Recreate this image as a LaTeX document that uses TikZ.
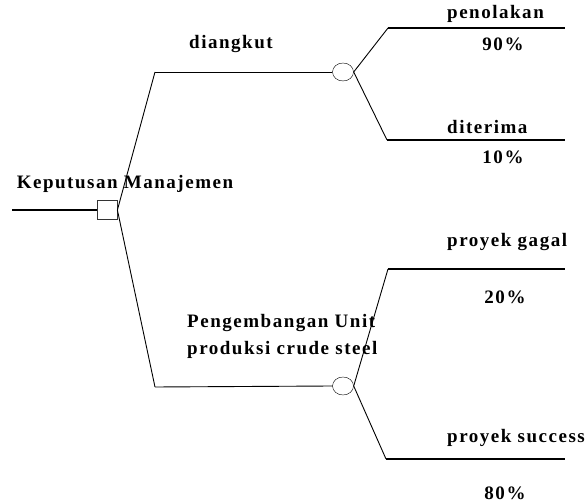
\documentclass[tikz,border=0pt]{standalone}
\usepackage{fontspec}
\setmainfont[LetterSpace=8]{Liberation Serif}
\usetikzlibrary{shapes.geometric,positioning}
\tikzset{%
  decision/.style={rectangle,draw=black!80,thick,minimum width=20pt,minimum height=19pt,inner sep=0pt},
  chance/.style={ellipse,draw=black,minimum width=21pt,minimum height=18pt,inner sep=0pt},
  branch/.style={draw=black,line width=0.9pt},
  outcome/.style={draw=black,line width=1.6pt},
  lbl/.style={font=\fontsize{19}{27}\selectfont\bfseries,inner sep=0pt}%
}
\begin{document}
\begin{tikzpicture}[x=1pt,y=-1pt]
      \useasboundingbox (0,0) rectangle (587,502);

      % decision node
      \coordinate (start) at (12,210);
      \node (keputusan) [decision] at (107,210) {};
      \coordinate (up_a) at (155,72);
      \coordinate (up_b) at (155,387);

      % chance nodes
      \node (chance_a) [chance] at (343,72) {};
      \node (chance_b) [chance] at (343,386) {};

      \coordinate (tolak) at (388,28);   \coordinate (tolak_e) at (565,28);
      \coordinate (terima) at (387,140); \coordinate (terima_e) at (565,140);
      \coordinate (gagal) at (388,269);  \coordinate (gagal_e) at (565,269);
      \coordinate (sukses) at (386,459); \coordinate (sukses_e) at (565,459);

      \path (start) edge[outcome] (keputusan.west);
      \path (keputusan.east) edge[branch] (up_a)
            (keputusan.east) edge[branch] (up_b);
      \path (up_a) edge[branch] (chance_a.west)
            (up_b) edge[branch] (chance_b.west);

      \path (chance_a.east) edge[branch] (tolak)
            (chance_a.east) edge[branch] (terima);
      \path (chance_b.east) edge[branch] (gagal)
            (chance_b.east) edge[branch] (sukses);

      \path (tolak) edge[outcome] (tolak_e)
            (terima) edge[outcome] (terima_e)
            (gagal) edge[outcome] (gagal_e)
            (sukses) edge[outcome] (sukses_e);

      % labels
      \node (l_keputusan) [lbl] at (125,184) {Keputusan Manajemen};
      \node (l_angkut) [lbl] at (231,44) {diangkut};
      \node (l_unit) [lbl,align=left,anchor=north west] at (187,314) {Pengembangan Unit\\produksi crude steel};
      \node (l_tolak) [lbl,anchor=west] at (447,14) {penolakan};
      \node (p_tolak) [lbl] at (503,44) {90\%};
      \node (l_terima) [lbl,anchor=west] at (447,127) {diterima};
      \node (p_terima) [lbl] at (503,157) {10\%};
      \node (l_gagal) [lbl,anchor=west] at (447,242) {proyek gagal};
      \node (p_gagal) [lbl] at (505,297) {20\%};
      \node (l_sukses) [lbl,anchor=west] at (447,438) {proyek success};
      \node (p_sukses) [lbl] at (505,493) {80\%};
\end{tikzpicture}
\end{document}
